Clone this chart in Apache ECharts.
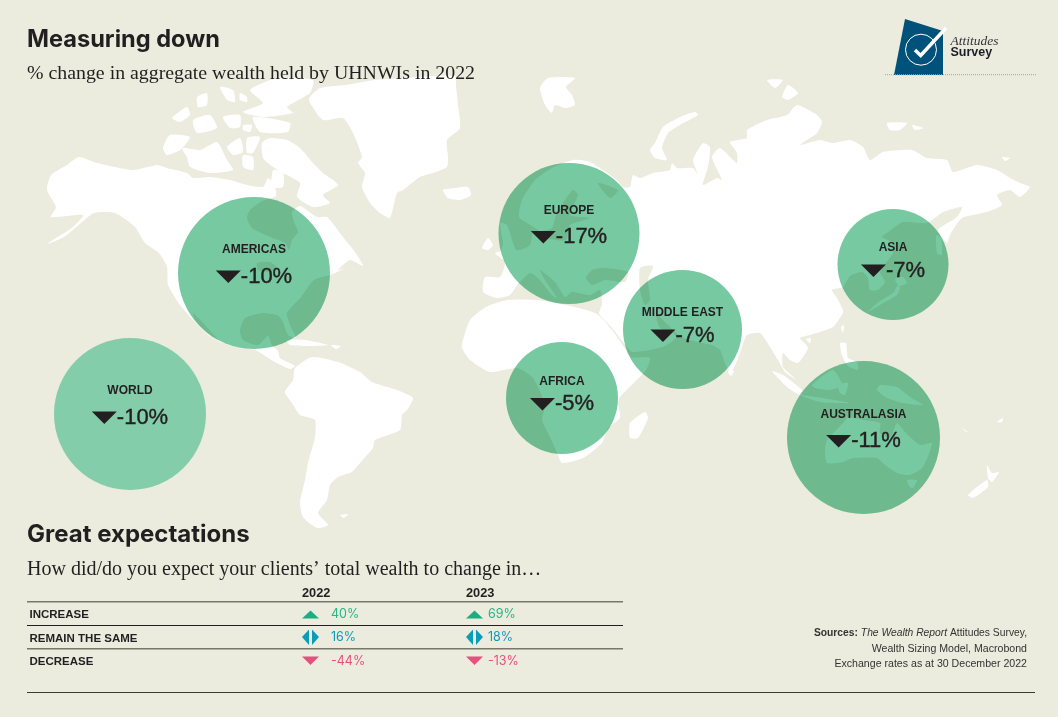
<!DOCTYPE html>
<html>
<head>
<meta charset="utf-8">
<title>Measuring down</title>
<style>
  html, body { margin: 0; padding: 0; background: #ebebde; }
  #main { width: 1058px; height: 717px; }
</style>
<script src="https://cdn.jsdelivr.net/npm/echarts@6/dist/echarts.min.js"></script>
</head>
<body>
<div id="main"></div>
<script>
  // bubbles
  var regions = ['WORLD', 'AMERICAS', 'EUROPE', 'MIDDLE EAST', 'AFRICA', 'ASIA', 'AUSTRALASIA']
  var regionChange = [-10, -10, -17, -7, -5, -7, -11]
  var regionX = [130, 254, 569, 682.5, 562, 893, 863.5]
  var regionY = [414, 273, 233.5, 329.5, 398, 264.5, 437.5]
  var regionRadius = [76, 76, 70.5, 59.5, 56, 55.5, 76.5]

  // table
  var answers = ['INCREASE', 'REMAIN THE SAME', 'DECREASE']
  var years = ['2022', '2023']
  var expect2022 = [40, 16, -44]
  var expect2023 = [69, 18, -13]

  // land outlines, traced in page pixels
  var land = [
    // north america
    [[51,175],[67,165],[79,157],[97,163],[133,170],[157,165],[167,168],[187,173],[193,178],[210,177],[230,180],[247,185],[263,187],[268,178],[274,184],[276,196],[262,201],[250,210],[247,218],[252,228],[270,237],[285,243],[289,250],[292,240],[298,232],[294,222],[292,212],[300,206],[317,217],[327,217],[343,237],[355,252],[363,266],[350,260],[338,270],[345,268],[333,274],[314,280],[301,297],[287,313],[290,325],[296,338],[288,335],[282,320],[277,315],[262,313],[245,318],[240,330],[243,340],[258,345],[268,336],[272,345],[278,351],[280,358],[295,366],[290,369],[275,362],[255,350],[232,346],[212,338],[195,322],[180,305],[168,285],[167,267],[159,253],[145,243],[135,227],[115,213],[94,213],[81,223],[64,237],[47,244],[73,227],[83,215],[51,217],[56,207],[47,190]],
    // arctic islands
    [[163,148],[170,135],[190,137],[180,150],[167,155]],
    [[182,148],[200,150],[217,142],[227,160],[233,170],[210,173],[190,167],[187,157]],
    [[172,118],[187,107],[190,115],[180,122]],
    [[193,120],[210,115],[217,128],[197,133]],
    [[197,97],[207,93],[207,105],[198,107]],
    [[220,87],[233,90],[235,102],[227,100]],
    [[240,93],[247,97],[247,102],[240,100]],
    [[223,117],[240,115],[240,127],[230,128]],
    [[243,125],[252,125],[250,132],[243,130]],
    [[250,90],[277,78],[313,80],[310,93],[287,107],[293,113],[263,117],[243,112],[263,103]],
    [[253,117],[290,123],[288,132],[260,132]],
    [[227,147],[240,138],[243,152],[233,155]],
    [[247,138],[260,137],[253,153],[247,153]],
    [[243,155],[253,157],[253,170],[243,167]],
    [[262,143],[270,138],[287,140],[300,148],[313,163],[323,173],[338,185],[323,195],[330,203],[313,207],[297,197],[300,183],[283,173],[273,167],[263,158]],
    [[273,170],[283,172],[283,187],[272,187]],
    // greenland, iceland, britain
    [[309,98],[320,88],[345,85],[375,80],[420,77],[455,76],[456,85],[458,105],[460,128],[447,140],[448,157],[447,167],[433,173],[420,177],[403,190],[397,193],[390,218],[380,213],[370,203],[362,187],[365,173],[358,163],[362,157],[353,133],[343,118],[323,120],[310,103]],
    [[443,190],[455,188],[468,187],[471,195],[460,200],[448,198]],
    [[482,248],[488,238],[493,245],[488,250]],
    [[500,223],[507,225],[513,243],[519,260],[500,258],[503,243]],
    // svalbard and the russian arctic
    [[540,88],[548,78],[575,78],[566,87],[572,95],[575,105],[565,108],[555,105],[552,113],[545,105]],
    [[650,150],[655,143],[663,127],[680,117],[695,112],[698,115],[680,125],[668,133],[662,148],[667,160],[655,158]],
    [[782,97],[788,85],[798,93],[788,100]],
    [[767,80],[783,80],[775,88]],
    [[887,123],[907,123],[900,130],[890,130]],
    [[912,125],[923,128],[915,130]],
    [[1002,157],[1010,158],[1005,161]],
    // eurasia
    [[573,160],[590,162],[617,180],[623,187],[630,187],[633,175],[640,178],[653,173],[670,170],[672,163],[677,168],[693,168],[698,175],[693,160],[703,143],[710,147],[708,167],[703,185],[717,178],[722,180],[712,157],[720,148],[733,160],[737,163],[737,153],[730,142],[747,138],[747,130],[767,120],[787,115],[797,105],[817,115],[822,122],[817,133],[800,145],[820,140],[833,143],[850,140],[863,147],[870,160],[883,152],[912,150],[927,158],[947,160],[953,172],[977,165],[997,170],[1010,178],[1020,183],[1030,187],[1020,197],[1010,190],[997,195],[1002,205],[987,212],[962,218],[950,235],[947,243],[938,230],[957,217],[962,207],[943,212],[927,223],[903,222],[887,233],[882,237],[893,243],[893,253],[880,272],[885,282],[878,290],[870,290],[868,278],[862,272],[850,276],[843,287],[832,290],[837,298],[843,310],[843,313],[833,327],[810,335],[800,338],[808,348],[798,363],[790,360],[783,353],[783,367],[797,380],[785,372],[778,360],[770,347],[760,333],[747,335],[740,353],[733,369],[727,368],[720,350],[712,345],[697,342],[680,336],[668,325],[656,314],[660,328],[672,332],[676,338],[665,346],[650,350],[632,352],[626,346],[612,328],[599,314],[602,304],[600,290],[590,295],[572,292],[565,297],[555,282],[540,270],[545,280],[557,298],[552,295],[538,278],[530,273],[518,284],[510,295],[497,298],[483,292],[485,277],[500,277],[505,262],[495,253],[512,250],[520,250],[530,245],[533,233],[540,232],[532,226],[519,217],[522,200],[535,180],[552,168]],
    // africa
    [[463,340],[470,320],[486,307],[507,300],[537,300],[575,307],[597,314],[612,330],[624,347],[631,357],[650,358],[646,370],[620,397],[618,403],[620,418],[608,428],[602,443],[583,458],[562,463],[558,455],[550,437],[542,420],[545,405],[533,378],[517,368],[490,372],[470,360],[462,348]],
    [[630,423],[645,412],[648,418],[638,438],[630,438]],
    // south america
    [[285,392],[293,380],[295,368],[312,357],[338,362],[360,372],[372,382],[397,390],[413,398],[407,410],[402,415],[400,430],[375,440],[373,448],[360,463],[352,472],[338,477],[330,485],[327,500],[318,513],[328,525],[317,528],[303,517],[300,502],[305,480],[308,463],[315,437],[315,420],[300,415],[292,403]],
    [[340,515],[348,514],[344,518]],
    // caribbean
    [[287,340],[305,340],[328,345],[312,346],[290,345]],
    [[331,345],[341,346],[336,349]],
    // east and south east asia
    [[898,285],[893,293],[877,303],[868,312],[880,305],[897,295],[900,288]],
    [[895,279],[903,277],[907,283],[899,286]],
    [[936,235],[941,238],[942,255],[937,253]],
    [[841,327],[844,325],[843,333]],
    [[806,339],[811,338],[810,343]],
    [[840,343],[846,343],[848,358],[857,362],[858,370],[848,366],[842,355]],
    [[772,371],[783,375],[802,390],[800,395],[787,387]],
    [[800,395],[835,400],[850,403],[820,402]],
    [[812,385],[833,370],[842,385],[830,390],[815,388]],
    [[838,385],[848,383],[845,395],[840,393]],
    [[730,368],[734,371],[731,376],[728,372]],
    // australasia
    [[877,390],[880,385],[897,387],[910,397],[923,405],[903,403],[887,398]],
    [[825,450],[827,440],[843,423],[848,417],[863,420],[880,423],[880,433],[890,438],[897,423],[905,432],[920,445],[932,443],[923,467],[910,475],[897,473],[885,465],[877,458],[853,458],[843,462],[827,463]],
    [[907,480],[917,480],[913,488],[910,487]],
    [[968,495],[987,480],[988,487],[973,498]],
    [[987,465],[992,473],[999,472],[992,482],[988,478]],
    [[962,428],[968,432],[965,431]],
    [[997,422],[1003,418],[1002,422]]
  ]

  // seas that sit inside the land outlines
  var water = [
    [[257,263],[270,262],[277,268],[268,272],[258,270]],
    [[193,313],[205,325],[218,340],[213,339],[195,320]],
    [[573,190],[578,195],[570,215],[590,218],[570,225],[566,240],[545,238],[540,232],[552,228],[556,215],[565,200]],
    [[598,183],[618,190],[610,198]],
    [[586,278],[592,270],[605,268],[628,272],[625,282],[605,280],[592,285]],
    [[640,268],[653,266],[648,280],[650,300],[645,305],[640,290]]
  ]

  var sansFont = '"Liberation Sans", Arial, sans-serif'
  var headFont = 'Inter, "Liberation Sans", sans-serif'
  var serifFont = '"Liberation Serif", serif'
  var paper = '#ebebde'
  var ink = '#231f20'

  function textWidth(text, font) {
    var ctx = textWidth.ctx || (textWidth.ctx = document.createElement('canvas').getContext('2d'))
    ctx.font = font
    return ctx.measureText(text).width
  }

  function outline(points, api) {
    return points.map(function (p) { return api.coord(p) })
  }

  var bubbleData = regions.map(function (name, i) {
    return { name: name, value: [regionX[i], regionY[i], regionRadius[i], regionChange[i]] }
  })

  var tableData = []
  answers.forEach(function (answer, row) {
    tableData.push([row, 0, expect2022[row]])
    tableData.push([row, 1, expect2023[row]])
  })

  var myChart = echarts.init(document.getElementById('main'))

  var option = {
    backgroundColor: paper,
    animation: false,
    grid: { left: 0, right: 0, top: 0, bottom: 0 },
    xAxis: { type: 'value', min: 0, max: 1058, show: false },
    yAxis: { type: 'value', min: 0, max: 717, inverse: true, show: false },
    title: [
      { text: 'Measuring down', left: 27, top: 27.5, padding: 0, textStyle: { fontFamily: headFont, fontSize: 23.6, fontWeight: 700, color: ink } },
      { text: '% change in aggregate wealth held by UHNWIs in 2022', left: 27, top: 64, padding: 0, textStyle: { fontFamily: serifFont, fontSize: 19.85, fontWeight: 'normal', color: ink } },
      { text: 'Great expectations', left: 27, top: 523, padding: 0, textStyle: { fontFamily: headFont, fontSize: 24, fontWeight: 700, color: ink } },
      { text: 'How did/do you expect your clients\u2019 total wealth to change in\u2026', left: 27, top: 560, padding: 0, textStyle: { fontFamily: serifFont, fontSize: 20, fontWeight: 'normal', color: ink } }
    ],
    series: [
      {
        // land
        type: 'custom',
        silent: true,
        z: 1,
        data: land.map(function (p, i) { return i }),
        renderItem: function (params, api) {
          return { type: 'polygon', shape: { points: outline(land[api.value(0)], api), smooth: 0.2 }, style: { fill: '#fff' } }
        }
      },
      {
        type: 'custom',
        silent: true,
        z: 2,
        data: water.map(function (p, i) { return i }),
        renderItem: function (params, api) {
          return { type: 'polygon', shape: { points: outline(water[api.value(0)], api), smooth: 0.2 }, style: { fill: paper } }
        }
      },
      {
        // world bubble does not multiply with the map
        type: 'scatter',
        silent: true,
        z: 3,
        data: bubbleData.slice(0, 1),
        symbolSize: function (v) { return v[2] * 2 },
        itemStyle: { color: '#84cdab', opacity: 1 }
      },
      {
        type: 'scatter',
        silent: true,
        z: 3,
        blendMode: 'multiply',
        data: bubbleData.slice(1),
        symbolSize: function (v) { return v[2] * 2 },
        itemStyle: { color: '#77c9a2', opacity: 1 }
      },
      {
        // bubble labels: name, arrow and change
        type: 'custom',
        silent: true,
        z: 4,
        data: bubbleData,
        renderItem: function (params, api) {
          var c = api.coord([api.value(0), api.value(1)])
          var r = api.value(2)
          var big = r > 65
          var nameY = c[1] + (big ? -23 : -16.5)
          var valueY = c[1] + (big ? 3.5 : 6)
          var text = api.value(3) + '%'
          var font = '22px ' + sansFont
          var w = textWidth(text, font)
          var left = c[0] - (25 + w) / 2
          return {
            type: 'group',
            children: [
              { type: 'text', style: { x: c[0], y: nameY, text: regions[params.dataIndex], font: 'bold 12px ' + sansFont, fill: ink, align: 'center', verticalAlign: 'middle' } },
              { type: 'polygon', shape: { points: [[left, valueY - 6], [left + 25, valueY - 6], [left + 12.5, valueY + 6.5]] }, style: { fill: ink } },
              { type: 'text', style: { x: left + 25, y: valueY, text: text, font: font, fill: ink, stroke: ink, lineWidth: 0.4, align: 'left', verticalAlign: 'middle' } }
            ]
          }
        }
      },
      {
        // table cells
        type: 'custom',
        silent: true,
        z: 4,
        data: tableData,
        renderItem: function (params, api) {
          var row = api.value(0)
          var col = api.value(1)
          var v = api.value(2)
          var x = api.coord([col === 0 ? 302 : 466, 0])[0]
          var y = api.coord([0, 614 + row * 23.5])[1]
          var textX = api.coord([col === 0 ? 331 : 488, 0])[0]
          var color = ['#1cae80', '#0b9cb8', '#e5517d'][row]
          var textColor = ['#25b886', '#0b9cb8', '#e5517d'][row]
          var marks
          if (row === 0) {
            marks = [{ type: 'polygon', shape: { points: [[x, y + 4.5], [x + 17, y + 4.5], [x + 8.5, y - 3.5]] }, style: { fill: color } }]
          } else if (row === 1) {
            marks = [
              { type: 'polygon', shape: { points: [[x, y - 0.5], [x + 7, y - 8], [x + 7, y + 7.5]] }, style: { fill: color } },
              { type: 'polygon', shape: { points: [[x + 10, y - 8], [x + 17, y - 0.5], [x + 10, y + 7.5]] }, style: { fill: color } }
            ]
          } else {
            marks = [{ type: 'polygon', shape: { points: [[x, y - 4.5], [x + 17, y - 4.5], [x + 8.5, y + 4]] }, style: { fill: color } }]
          }
          marks.push({ type: 'text', style: { x: textX, y: y, text: v + '%', font: '12.5px Inter, sans-serif', fill: textColor, align: 'left', verticalAlign: 'middle' } })
          return { type: 'group', children: marks }
        }
      }
    ],
    graphic: [].concat(
      answers.map(function (answer, i) {
        return { type: 'text', left: 29.5, top: 609 + i * 23.5, silent: true, style: { text: answer, font: 'bold 11.5px ' + sansFont, fill: ink } }
      }),
      years.map(function (year, i) {
        return { type: 'text', left: i === 0 ? 302 : 466, top: 586.5, silent: true, style: { text: year, font: 'bold 12.8px ' + sansFont, fill: ink } }
      }),
      [
        // table rules
        { type: 'line', silent: true, shape: { x1: 27, y1: 601.7, x2: 623, y2: 601.7 }, style: { stroke: '#77776c', lineWidth: 1.5 } },
        { type: 'line', silent: true, shape: { x1: 27, y1: 625.5, x2: 623, y2: 625.5 }, style: { stroke: '#231f20', lineWidth: 1 } },
        { type: 'line', silent: true, shape: { x1: 27, y1: 648.7, x2: 623, y2: 648.7 }, style: { stroke: '#77776c', lineWidth: 1.5 } },
        { type: 'line', silent: true, shape: { x1: 27, y1: 692.5, x2: 1035, y2: 692.5 }, style: { stroke: '#3a3a36', lineWidth: 1 } },
        // logo
        { type: 'polygon', silent: true, shape: { points: [[905, 19], [943, 31], [943, 75], [894, 75]] }, style: { fill: '#00527a' } },
        { type: 'circle', silent: true, shape: { cx: 921, cy: 49.7, r: 15.5 }, style: { fill: 'none', stroke: '#fff', lineWidth: 1 } },
        { type: 'polyline', silent: true, shape: { points: [[915, 50], [920.7, 55.5], [946, 28]] }, style: { fill: 'none', stroke: '#fff', lineWidth: 3.5 } },
        { type: 'line', silent: true, shape: { x1: 885, y1: 74.7, x2: 1036, y2: 74.7 }, style: { stroke: '#a5a598', lineWidth: 1, lineDash: [1, 1] } },
        { type: 'text', silent: true, left: 950.5, top: 34, style: { text: 'Attitudes', font: 'italic 13.5px ' + serifFont, fill: '#33333a' } },
        { type: 'text', silent: true, left: 950.5, top: 46.5, style: { text: 'Survey', font: 'bold 12.5px ' + sansFont, fill: '#1d1d2a' } },
        // sources
        {
          type: 'text', silent: true, right: 31, top: 628,
          style: {
            text: '{b|Sources: }{i|The Wealth Report} Attitudes Survey,',
            font: '10.3px ' + sansFont, fill: '#333',
            rich: { b: { font: 'bold 10.3px ' + sansFont, fill: '#333' }, i: { font: 'italic 10.3px ' + sansFont, fill: '#333' } }
          }
        },
        { type: 'text', silent: true, right: 31, top: 644, style: { text: 'Wealth Sizing Model, Macrobond', font: '10.6px ' + sansFont, fill: '#333' } },
        { type: 'text', silent: true, right: 31, top: 659, style: { text: 'Exchange rates as at 30 December 2022', font: '10.6px ' + sansFont, fill: '#333' } }
      ]
    )
  }

  myChart.setOption(option)
</script>
</body>
</html>
